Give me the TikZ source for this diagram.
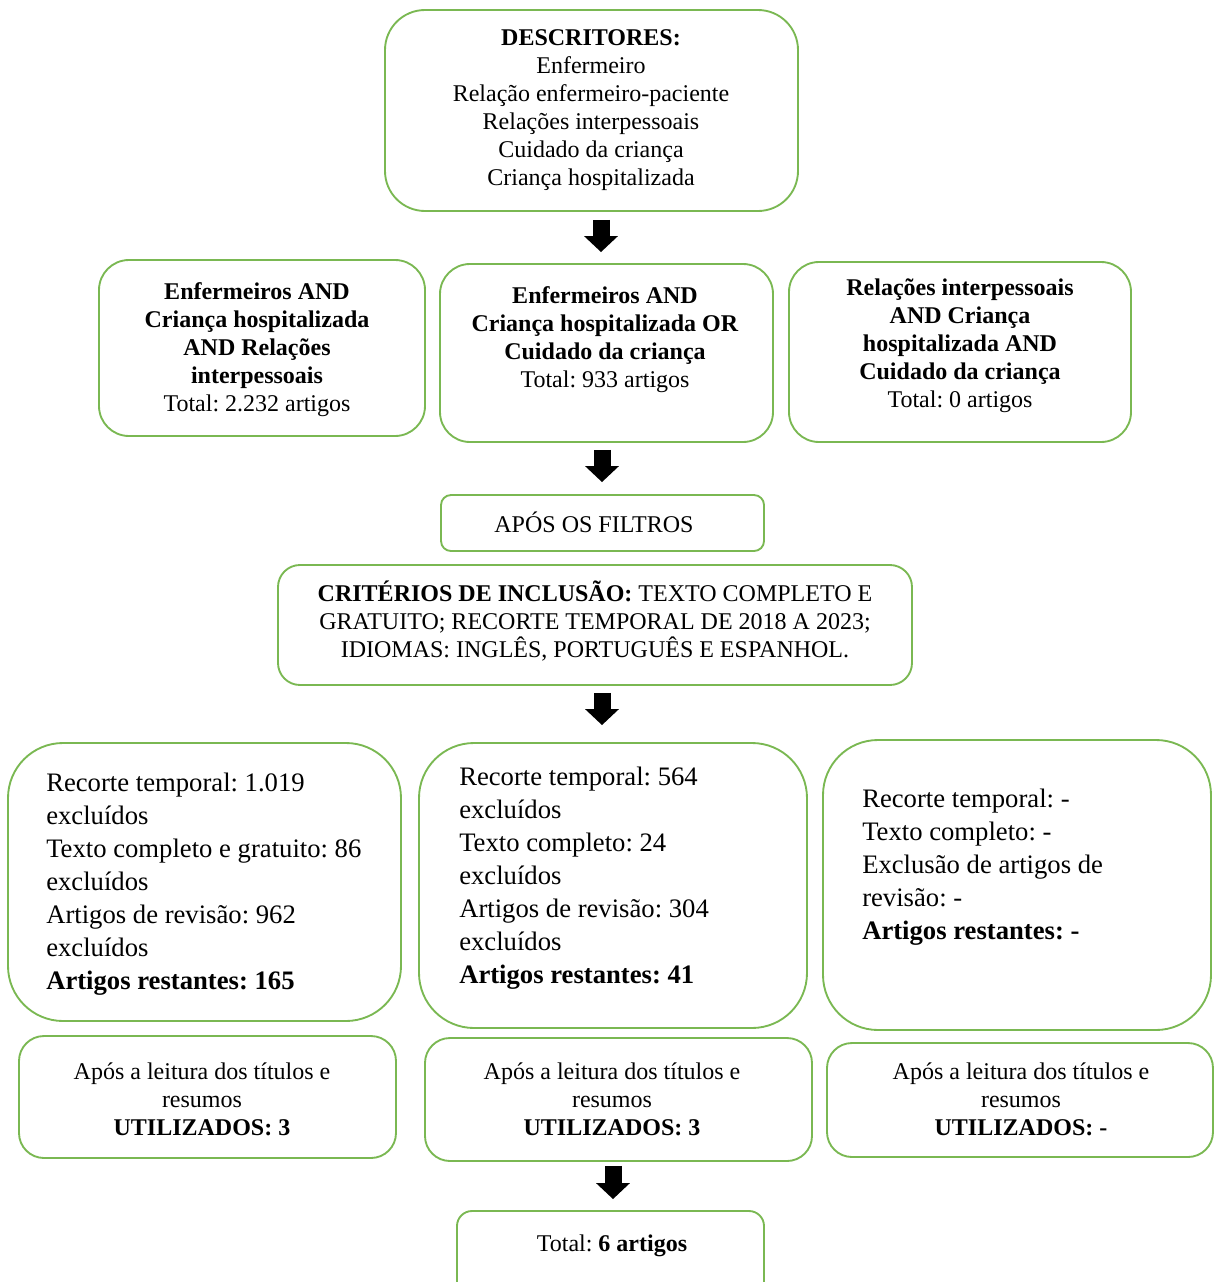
\documentclass[tikz,border=0pt]{standalone}
\usepackage{fontspec}
\setmainfont{Liberation Serif}
\usetikzlibrary{arrows.meta}
\definecolor{boxgreen}{RGB}{122,184,82}
\frenchspacing
\tikzset{
  bx/.style n args={3}{draw=boxgreen, line width=1.4pt, fill=white, rounded corners=#3*0.75pt,
    minimum width=#1*0.75pt, minimum height=#2*0.75pt, inner sep=0pt},
  tmid/.style={inner sep=0pt, align=center, font=\fontsize{18pt}{21pt}\selectfont\frenchspacing},
  tbig/.style={inner sep=0pt, align=left, anchor=west, font=\fontsize{20pt}{24.75pt}\selectfont\frenchspacing},
  tsmall/.style={inner sep=0pt, align=center, font=\fontsize{18pt}{21pt}\selectfont\frenchspacing},
  barrow/.style={draw=black, line width=12.75pt, -{Triangle[width=24.75pt,length=12pt]}}
}
\begin{document}
\begin{tikzpicture}[x=0.75pt,y=-0.75pt]
\useasboundingbox (0,0) rectangle (1214,1282);
\clip (0,0) rectangle (1214,1282);
% boxes
\node[bx={413}{201}{40}] (desc) at (591.5,110.5) {};
\node[bx={326}{176}{30}] (a) at (262,348) {};
\node[bx={333}{178}{30}] (b) at (606.5,353) {};
\node[bx={342}{180}{30}] (c) at (960,352) {};
\node[bx={323}{56}{10}] (filt) at (602.5,523) {};
\node[bx={634}{120}{22}] (crit) at (595,625) {};
\node[bx={393}{278}{55}] (d) at (204.5,882) {};
\node[bx={388}{285}{55}] (e) at (613,885.5) {};
\node[bx={388}{290}{55}] (f) at (1017,885) {};
\node[bx={377}{122}{25}] (g) at (207.5,1097) {};
\node[bx={387}{123}{25}] (h) at (618.5,1099.5) {};
\node[bx={386}{114}{25}] (i) at (1020,1100) {};
\node[bx={307}{90}{15}] (tot) at (610.5,1256) {};
% texts
\node[tmid] (tdesc) at (591,110) {\textbf{DESCRITORES:}\\Enfermeiro\\Relação enfermeiro-paciente\\Relações interpessoais\\Cuidado da criança\\Criança hospitalizada};
\node[tmid] (ta) at (257,350) {\textbf{Enfermeiros AND}\\\textbf{Criança hospitalizada}\\\textbf{AND Relações}\\\textbf{interpessoais}\\Total: 2.232 artigos};
\node[tmid] (tb) at (605,340) {\textbf{Enfermeiros AND}\\\textbf{Criança hospitalizada OR}\\\textbf{Cuidado da criança}\\Total: 933 artigos};
\node[tmid] (tc) at (960,346) {\textbf{Relações interpessoais}\\\textbf{AND Criança}\\\textbf{hospitalizada AND}\\\textbf{Cuidado da criança}\\Total: 0 artigos};
\node[tmid] (tfilt) at (594,522) {APÓS OS FILTROS};
\node[tmid] (tcrit) at (595,621) {\textbf{CRITÉRIOS DE INCLUSÃO:} TEXTO COMPLETO E\\GRATUITO; RECORTE TEMPORAL DE 2018 A 2023;\\IDIOMAS: INGLÊS, PORTUGUÊS E ESPANHOL.};
\node[tbig] (td) at (46,884) {Recorte temporal: 1.019\\excluídos\\Texto completo e gratuito: 86\\excluídos\\Artigos de revisão: 962\\excluídos\\\textbf{Artigos restantes: 165}};
\node[tbig] (te) at (459,878) {Recorte temporal: 564\\excluídos\\Texto completo: 24\\excluídos\\Artigos de revisão: 304\\excluídos\\\textbf{Artigos restantes: 41}};
\node[tbig] (tf) at (862,867) {Recorte temporal: -\\Texto completo: -\\Exclusão de artigos de\\revisão: -\\\textbf{Artigos restantes: -}};
\node[tsmall] (tg) at (202,1099) {Após a leitura dos títulos e\\resumos\\\textbf{UTILIZADOS: 3}};
\node[tsmall] (th) at (612,1099) {Após a leitura dos títulos e\\resumos\\\textbf{UTILIZADOS: 3}};
\node[tsmall] (ti) at (1021,1099) {Após a leitura dos títulos e\\resumos\\\textbf{UTILIZADOS: -}};
\node[tsmall] (ttot) at (612,1246) {Total: \textbf{6 artigos}};
% arrows
\draw[barrow] ([xshift=7.125pt,yshift=-6pt]desc.south) -- ([xshift=-4.125pt,yshift=8.25pt]b.north);
\draw[barrow] ([xshift=-3.375pt,yshift=-5.25pt]b.south) -- ([xshift=-0.375pt,yshift=9pt]filt.north);
\draw[barrow] ([xshift=5.25pt,yshift=-5.25pt]crit.south) -- ([xshift=-8.25pt,yshift=12.75pt]e.north);
\draw[barrow] ([xshift=-4.125pt,yshift=-3pt]h.south) -- ([xshift=1.875pt,yshift=8.25pt]tot.north);
\end{tikzpicture}
\end{document}
